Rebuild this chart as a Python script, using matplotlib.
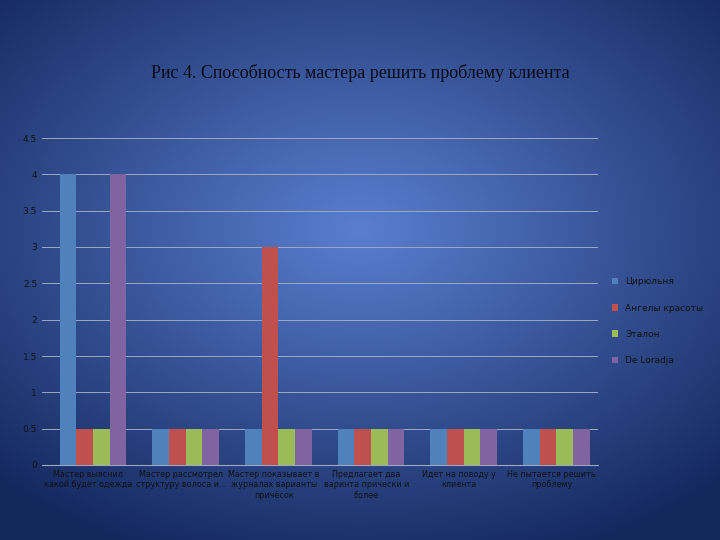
import numpy as np
import matplotlib
matplotlib.use("Agg")
from matplotlib import pyplot as plt

categories = ["Мастер выяснил\nкакой будет одежда", "Мастер рассмотрел\nструктуру волоса и...",
              "Мастер показывает в\nжурналах варианты\nпричёсок", "Предлагает два\nваринта прически и\nболее",
              "Идет на поводу у\nклиента", "Не пытается решить\nпроблему"]
series_names = ["Цирюльня", "Ангелы красоты", "Эталон", "De Loradja"]
series_values = [
    [4, 0.5, 0.5, 0.5, 0.5, 0.5],
    [0.5, 0.5, 3, 0.5, 0.5, 0.5],
    [0.5, 0.5, 0.5, 0.5, 0.5, 0.5],
    [4, 0.5, 0.5, 0.5, 0.5, 0.5],
]
colors = ["#4f81bd", "#c0504d", "#9bbb59", "#8064a2"]

fig = plt.figure(figsize=(7.2, 5.4), dpi=100)

# radial blue gradient background
bg = fig.add_axes([0, 0, 1, 1])
yy, xx = np.mgrid[-1:1:270j, -1:1:360j]
r = np.sqrt((xx * 0.9) ** 2 + (yy * 1.0 + 0.15) ** 2)
r = np.clip(r / 1.3, 0, 1)
c0 = np.array([0x5a, 0x7f, 0xd0]) / 255
c1 = np.array([0x14, 0x28, 0x5e]) / 255
img = c0[None, None, :] * (1 - r[..., None]) + c1[None, None, :] * r[..., None]
bg.imshow(img, aspect="auto", extent=[0, 1, 0, 1])
bg.axis("off")

ax = fig.add_axes([42 / 720, 75 / 540, 556 / 720, 327 / 540])
ax.set_facecolor("none")
x = np.arange(len(categories))
w = 0.18
for i, (name, vals) in enumerate(zip(series_names, series_values)):
    ax.bar(x + (i - 1.5) * w + 0.05, vals, w, color=colors[i], label=name, zorder=3)

ax.set_xlim(-0.5, len(categories) - 0.5)
ax.set_ylim(0, 4.5)
ax.set_yticks(np.arange(0, 4.6, 0.5))
ax.set_yticklabels(["0", "0.5", "1", "1.5", "2", "2.5", "3", "3.5", "4", "4.5"])
ax.set_xticks(x)
ax.set_xticklabels(categories, fontsize=5.8, color="#111111")
ax.tick_params(axis="y", labelsize=6.5, colors="#111111", length=0)
ax.tick_params(axis="x", length=0)
ax.grid(axis="y", color="#a0a8c0", linewidth=0.7, zorder=0)
for s in ["top", "right", "left"]:
    ax.spines[s].set_visible(False)
ax.spines["bottom"].set_color("#a0a8c0")

ax.legend(loc="center left", bbox_to_anchor=(1.01, 0.44), frameon=False,
          fontsize=6.5, labelcolor="#111111", handlelength=0.7, handleheight=0.7,
          labelspacing=1.9)

fig.text(0.5, 0.855, "Рис 4. Способность мастера решить проблему клиента",
         ha="center", fontsize=13, family="Liberation Serif", color="#0a0a14")

fig.savefig("out.png", dpi=100)
